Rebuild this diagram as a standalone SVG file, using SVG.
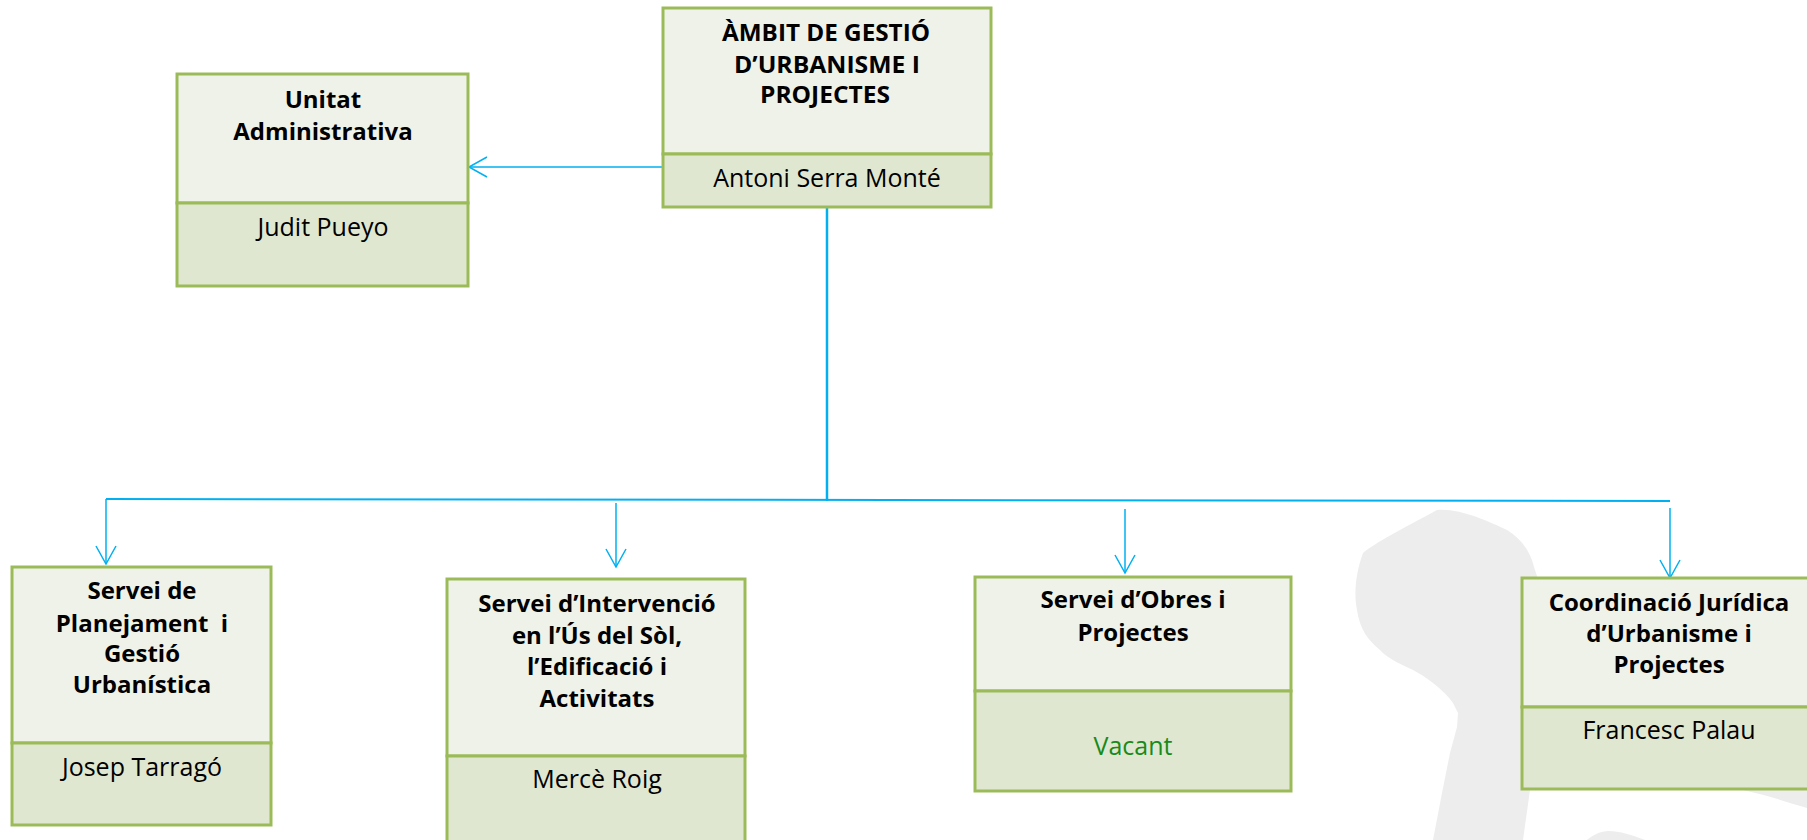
<svg xmlns="http://www.w3.org/2000/svg" width="1807" height="840" viewBox="0 0 1807 840">
<defs>
<style>
.hd{fill:#eff2e9;stroke:#9bbb59;stroke-width:3}
.nm{fill:#dfe7d1;stroke:#9bbb59;stroke-width:3}
.t{font-family:"Open Sans","Liberation Sans",sans-serif;font-weight:bold;font-size:24px;fill:#000;text-anchor:middle}
.p{font-family:"Open Sans","Liberation Sans",sans-serif;font-size:25px;fill:#000;text-anchor:middle}
.c{fill:none;stroke:#00b0f0;stroke-width:1.5}
</style>
<marker id="ah" markerUnits="userSpaceOnUse" markerWidth="22" markerHeight="24" refX="19" refY="11" orient="auto">
<path d="M1,1 L19,11 L1,21" fill="none" stroke="#00b0f0" stroke-width="1.5"/>
</marker>
</defs>
<rect width="1807" height="840" fill="#fff"/>
<g id="watermark" fill="#ededed">
<path d="M1437,510 C1460,508 1490,522 1507,530 C1520,538 1530,550 1534,567 L1545,600 L1540,700 L1530,790 L1523,840 L1433,840 L1442,793 L1450,753 L1457,727 L1458,713 L1453,703 C1448,695 1432,680 1413,670 C1395,662 1385,656 1380,650 C1368,640 1360,630 1357,610 C1354,595 1355,575 1363,553 C1375,543 1400,530 1437,510 Z"/>
<path d="M1700,700 L1807,700 L1807,808 C1790,803 1770,796 1743,790 L1700,789 Z"/>
<path d="M1587,840 C1592,836 1597,832 1608,831 C1620,831 1632,835 1645,840 Z"/>
</g>
<g id="connectors">
<line class="c" x1="663" y1="167" x2="469" y2="167" marker-end="url(#ah)"/>
<line x1="827" y1="207" x2="827" y2="501" stroke="#00b0f0" stroke-width="2.5"/>
<line x1="106" y1="499" x2="1670" y2="501" stroke="#00b0f0" stroke-width="2"/>
<line class="c" x1="106" y1="499" x2="106" y2="564" marker-end="url(#ah)"/>
<line class="c" x1="616" y1="503" x2="616" y2="567" marker-end="url(#ah)"/>
<line class="c" x1="1125" y1="509" x2="1125" y2="573" marker-end="url(#ah)"/>
<line class="c" x1="1670" y1="508" x2="1670" y2="578" marker-end="url(#ah)"/>
</g>
<g id="ambit">
<rect class="hd" x="663" y="8" width="328" height="146"/>
<rect class="nm" x="663" y="154" width="328" height="53"/>
<text class="t" x="826" y="41" textLength="208" lengthAdjust="spacingAndGlyphs">ÀMBIT DE GESTIÓ</text>
<text class="t" x="827" y="73" textLength="186" lengthAdjust="spacingAndGlyphs">D’URBANISME I</text>
<text class="t" x="825" y="103" textLength="130" lengthAdjust="spacingAndGlyphs">PROJECTES</text>
<text class="p" x="827" y="187">Antoni Serra Monté</text>
</g>
<g id="unitat">
<rect class="hd" x="177" y="74" width="291" height="129"/>
<rect class="nm" x="177" y="203" width="291" height="83"/>
<text class="t" x="323" y="108">Unitat</text>
<text class="t" x="323" y="140">Administrativa</text>
<text class="p" x="323" y="236">Judit Pueyo</text>
</g>
<g id="planejament">
<rect class="hd" x="12" y="567" width="259" height="176"/>
<rect class="nm" x="12" y="743" width="259" height="82"/>
<text class="t" x="142" y="599">Servei de</text>
<text class="t" x="142" y="632" xml:space="preserve">Planejament  i</text>
<text class="t" x="142" y="662">Gestió</text>
<text class="t" x="142" y="693">Urbanística</text>
<text class="p" x="142" y="776">Josep Tarragó</text>
</g>
<g id="intervencio">
<rect class="hd" x="447" y="579" width="298" height="177"/>
<rect class="nm" x="447" y="756" width="298" height="92"/>
<text class="t" x="597" y="612">Servei d’Intervenció</text>
<text class="t" x="597" y="644">en l’Ús del Sòl,</text>
<text class="t" x="597" y="675">l’Edificació i</text>
<text class="t" x="597" y="707">Activitats</text>
<text class="p" x="597" y="788">Mercè Roig</text>
</g>
<g id="obres">
<rect class="hd" x="975" y="577" width="316" height="114"/>
<rect class="nm" x="975" y="691" width="316" height="100"/>
<text class="t" x="1133" y="608">Servei d’Obres i</text>
<text class="t" x="1133" y="641">Projectes</text>
<text class="p" x="1133" y="755" style="fill:#1a8a1a">Vacant</text>
</g>
<g id="coordinacio">
<rect class="hd" x="1522" y="578" width="300" height="129"/>
<rect class="nm" x="1522" y="707" width="300" height="82"/>
<text class="t" x="1669" y="611">Coordinació Jurídica</text>
<text class="t" x="1669" y="642">d’Urbanisme i</text>
<text class="t" x="1669" y="673">Projectes</text>
<text class="p" x="1669" y="739">Francesc Palau</text>
</g>
</svg>
